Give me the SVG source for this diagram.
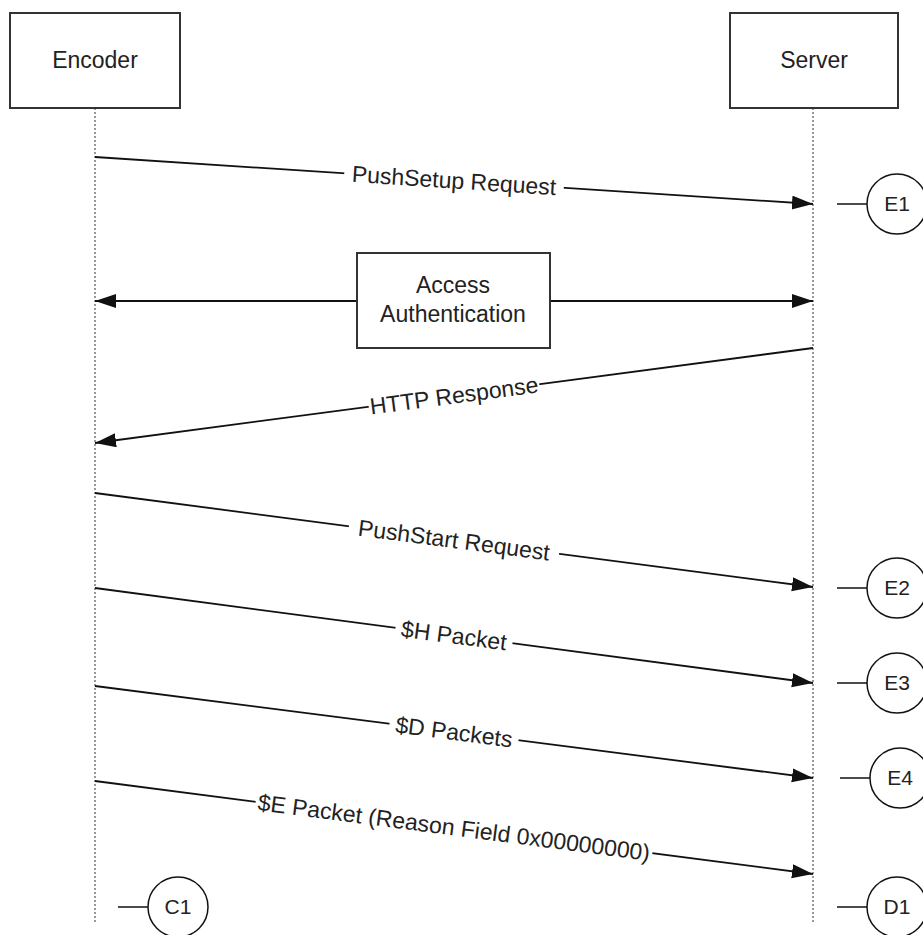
<svg xmlns="http://www.w3.org/2000/svg" width="923" height="935" viewBox="0 0 923 935">
<style>
  .box { fill: #fff; stroke: #333; stroke-width: 2; }
  .life { stroke: #777; stroke-width: 1.5; stroke-dasharray: 2 2; fill: none; }
  .msg { stroke: #111; stroke-width: 1.8; fill: none; marker-end: url(#ah); }
  .stub { stroke: #111; stroke-width: 1.5; }
  .circ { fill: #fff; stroke: #111; stroke-width: 1.5; }
  text { font-family: "Liberation Sans", Arial, sans-serif; fill: #222; }
  .lbl { font-size: 23px; text-anchor: middle; }
  .ctext { font-size: 21px; text-anchor: middle; }
  .bg { fill: #fff; }
</style>
<defs>
  <marker id="ah" markerUnits="userSpaceOnUse" markerWidth="22" markerHeight="16" refX="21" refY="7" orient="auto">
    <path d="M0,0 L21,7 L0,14 z" fill="#111"/>
  </marker>
</defs>

<g id="encoder">
  <line class="life" x1="95" y1="108" x2="95" y2="923"/>
  <rect class="box" x="10" y="13" width="170" height="95"/>
  <text class="lbl" x="95" y="68">Encoder</text>
</g>
<g id="server">
  <line class="life" x1="813" y1="108" x2="813" y2="923"/>
  <rect class="box" x="730" y="13" width="168" height="95"/>
  <text class="lbl" x="814" y="68">Server</text>
</g>

<g id="connectors">
  <line class="msg" x1="95" y1="157" x2="813" y2="204"/>
  <line class="msg" x1="357" y1="301" x2="95" y2="301"/>
  <line class="msg" x1="550" y1="301" x2="813" y2="301"/>
  <line class="msg" x1="813" y1="348" x2="95" y2="443"/>
  <line class="msg" x1="95" y1="493" x2="813" y2="587"/>
  <line class="msg" x1="95" y1="588" x2="813" y2="683"/>
  <line class="msg" x1="95" y1="686" x2="813" y2="778"/>
  <line class="msg" x1="95" y1="781" x2="813" y2="874"/>

  <g transform="translate(454,180.5) rotate(3.75)">
    <rect class="bg" x="-110" y="-12" width="220" height="24"/>
    <text class="lbl" x="0" y="8">PushSetup Request</text>
  </g>
  <g transform="translate(454,395.5) rotate(-7.54)">
    <rect class="bg" x="-86" y="-12" width="172" height="24"/>
    <text class="lbl" x="0" y="8">HTTP Response</text>
  </g>
  <g transform="translate(454,540) rotate(7.46)">
    <rect class="bg" x="-106" y="-12" width="212" height="24"/>
    <text class="lbl" x="0" y="8">PushStart Request</text>
  </g>
  <g transform="translate(454,635.5) rotate(7.54)">
    <rect class="bg" x="-59" y="-12" width="118" height="24"/>
    <text class="lbl" x="0" y="8">$H Packet</text>
  </g>
  <g transform="translate(454,732) rotate(7.3)">
    <rect class="bg" x="-65" y="-12" width="130" height="24"/>
    <text class="lbl" x="0" y="8">$D Packets</text>
  </g>
  <g transform="translate(454,827.5) rotate(7.38)">
    <rect class="bg" x="-200" y="-12" width="400" height="24"/>
    <text class="lbl" x="0" y="8">$E Packet (Reason Field 0x00000000)</text>
  </g>
</g>

<g id="access-auth">
  <rect class="box" x="357" y="253" width="193" height="95"/>
  <text class="lbl" x="453" y="293">Access</text>
  <text class="lbl" x="453" y="322">Authentication</text>
</g>

<g id="E1">
  <line class="stub" x1="837" y1="204" x2="867" y2="204"/>
  <circle class="circ" cx="897" cy="204" r="30"/>
  <text class="ctext" x="897" y="211">E1</text>
</g>
<g id="E2">
  <line class="stub" x1="837" y1="588" x2="867" y2="588"/>
  <circle class="circ" cx="897" cy="588" r="30"/>
  <text class="ctext" x="897" y="595">E2</text>
</g>
<g id="E3">
  <line class="stub" x1="837" y1="683" x2="867" y2="683"/>
  <circle class="circ" cx="897" cy="683" r="30"/>
  <text class="ctext" x="897" y="690">E3</text>
</g>
<g id="E4">
  <line class="stub" x1="840" y1="778" x2="870" y2="778"/>
  <circle class="circ" cx="900" cy="778" r="30"/>
  <text class="ctext" x="900" y="785">E4</text>
</g>
<g id="D1">
  <line class="stub" x1="837" y1="907" x2="867" y2="907"/>
  <circle class="circ" cx="897" cy="907" r="30"/>
  <text class="ctext" x="897" y="914">D1</text>
</g>
<g id="C1">
  <line class="stub" x1="118" y1="907" x2="148" y2="907"/>
  <circle class="circ" cx="178" cy="907" r="30"/>
  <text class="ctext" x="178" y="914">C1</text>
</g>
</svg>
